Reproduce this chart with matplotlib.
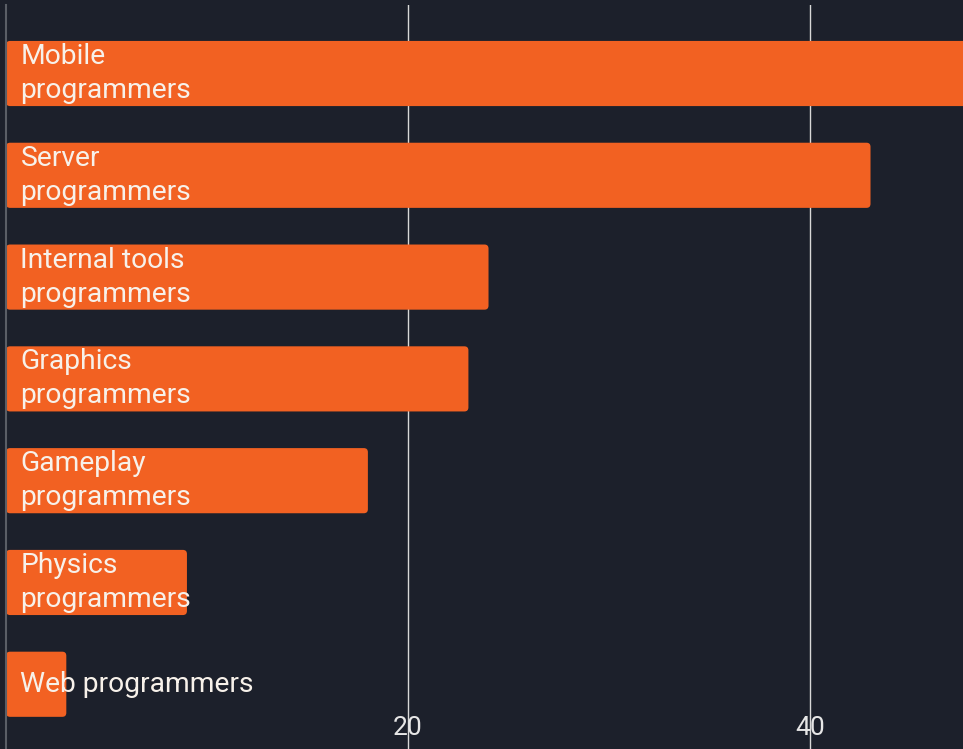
import matplotlib.pyplot as plt
from matplotlib.patches import FancyBboxPatch

# data
labels = ["Mobile\nprogrammers", "Server\nprogrammers", "Internal tools\nprogrammers",
          "Graphics\nprogrammers", "Gameplay\nprogrammers", "Physics\nprogrammers",
          "Web programmers"]
values = [52, 43, 24, 23, 18, 9, 3]
xticks = [20, 40]

bg = "#1c202b"
bar_color = "#f26122"
text_color = "#f7f1ea"

plt.rcParams['font.family'] = ['Roboto', 'DejaVu Sans']

fig = plt.figure(figsize=(9.63, 7.49), dpi=100, facecolor=bg)
ax = fig.add_axes([6 / 963, 0, 957 / 963, 744 / 749])
ax.set_facecolor(bg)

bar_h = 0.64
for i, (lab, v) in enumerate(zip(labels, values)):
    box = FancyBboxPatch((0, i - bar_h / 2), v, bar_h,
                         boxstyle="round,pad=0,rounding_size=0.2",
                         mutation_aspect=0.2, facecolor=bar_color,
                         edgecolor="none", zorder=2)
    ax.add_patch(box)
    ax.text(0.72, i, lab, color=text_color, fontsize=20.3, va="center",
            ha="left", linespacing=1.33, zorder=3)

ax.set_xlim(0, 47.6)
ax.set_ylim(6.636, -0.673)

ax.set_xticks(xticks)
ax.set_yticks([])
ax.grid(axis="x", color="#d8d8d8", linewidth=1.0, zorder=1)
ax.tick_params(axis="x", length=0, pad=-24, labelsize=19, labelcolor="#e6e6e6")
for s in ["top", "right", "bottom"]:
    ax.spines[s].set_visible(False)
ax.spines["left"].set_color("#5a5e66")
ax.spines["left"].set_linewidth(1.5)

fig.savefig("out.png", dpi=100, facecolor=bg)
